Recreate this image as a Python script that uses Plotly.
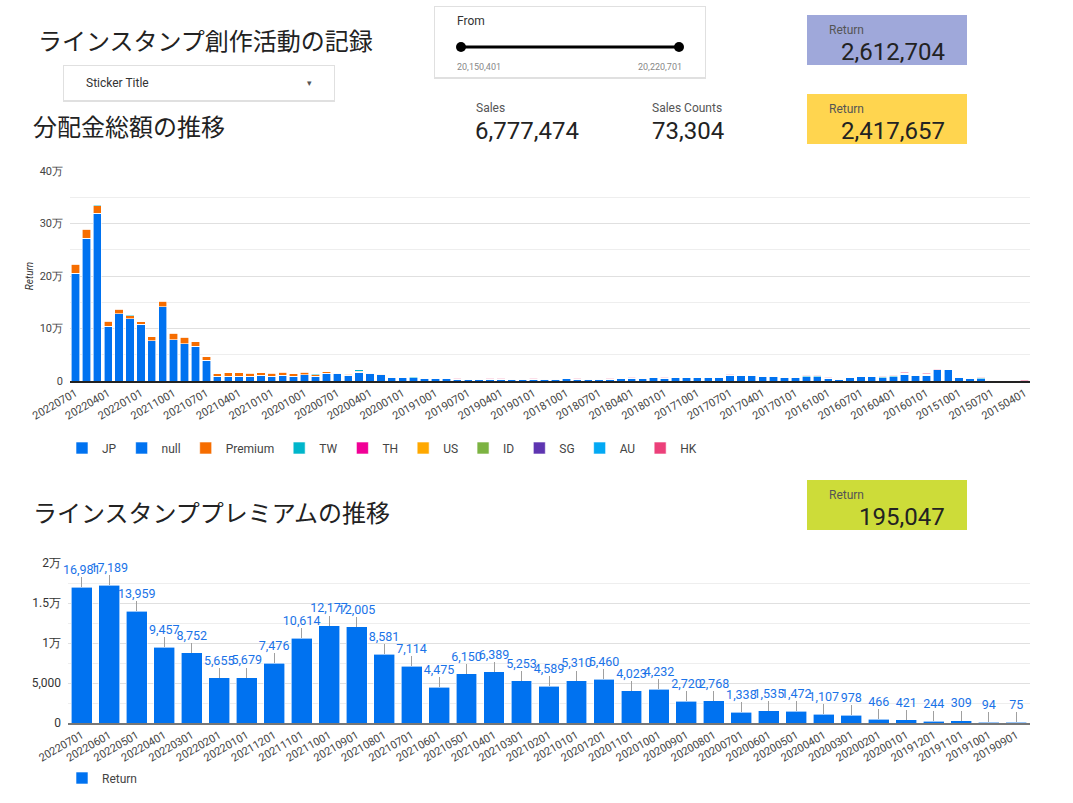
import plotly.graph_objects as go

W, H = 1073, 803

# months, newest first (top chart)
months = [
    "20220701", "20220601", "20220501", "20220401", "20220301", "20220201", "20220101",
    "20211201", "20211101", "20211001", "20210901", "20210801", "20210701",
    "20210601", "20210501", "20210401", "20210301", "20210201", "20210101",
    "20201201", "20201101", "20201001", "20200901", "20200801", "20200701",
    "20200601", "20200501", "20200401", "20200301", "20200201", "20200101",
    "20191201", "20191101", "20191001", "20190901", "20190801", "20190701",
    "20190601", "20190501", "20190401", "20190301", "20190201", "20190101",
    "20181201", "20181101", "20181001", "20180901", "20180801", "20180701",
    "20180601", "20180501", "20180401", "20180301", "20180201", "20180101",
    "20171201", "20171101", "20171001", "20170901", "20170801", "20170701",
    "20170601", "20170501", "20170401", "20170301", "20170201", "20170101",
    "20161201", "20161101", "20161001", "20160901", "20160801", "20160701",
    "20160601", "20160501", "20160401", "20160301", "20160201", "20160101",
    "20151201", "20151101", "20151001", "20150901", "20150801", "20150701",
    "20150601", "20150501", "20150401",
]

jp = [
    205000, 272000, 320000, 104000, 128000, 119000, 108000, 77000, 141000, 79000, 71000, 66000, 40000,
    9500, 9500, 9500, 9500, 11000, 9500, 11000, 9500, 12000, 9500, 14600, 14600,
    11000, 17000, 14600, 12000, 7000, 7000, 6300, 5000, 4000, 5000,
    3000, 3000, 3000, 3800, 3800, 3200, 3200, 3800, 3200, 3200, 4500, 3800,
    3200, 3200, 3800, 4500, 5700, 5700, 6300, 5000, 6300, 6300, 6300, 7000, 7000,
    10800, 11400, 11400, 9500, 9500, 7600, 7600, 8300, 8300, 5000, 3800, 6300,
    8300, 9500, 6300, 8300, 13300, 10800, 10800, 21000, 21000, 7000, 5000, 4500,
    1000, 500, 0, 0,
]

tw = [
    1000, 500, 2000, 1500, 1200, 1300, 500, 500, 2400, 1800, 2000, 1400, 500,
    300, 400, 1100, 1200, 1400, 1200, 1500, 1500, 1800, 1800, 600, 600,
    1500, 2500, 1300, 1000, 1500, 1200, 1800, 1300, 900, 1500,
    1500, 500, 500, 700, 700, 800, 800, 700, 800, 800, 700, 700,
    800, 800, 700, 700, 800, 1100, 1200, 1200, 1200, 800, 1200, 800, 800,
    1100, 1100, 1100, 1500, 1100, 1100, 1100, 1800, 1800, 1500, 1100, 800,
    1000, 1500, 1900, 1800, 1900, 1900, 2500, 600, 1200, 1800, 1500, 1800,
    1000, 800, 0, 0,
]

hk = [
    0, 0, 0, 0, 0, 0, 0, 0, 0, 0, 0, 0, 0,
    0, 0, 0, 0, 0, 0, 0, 0, 0, 0, 0, 0,
    0, 0, 0, 0, 0, 0, 0, 0, 0, 0,
    1200, 300, 300, 500, 500, 500, 500, 500, 500, 500, 500, 500,
    500, 500, 500, 500, 500, 800, 800, 800, 800, 500, 800, 500, 500,
    800, 800, 800, 1000, 800, 800, 800, 1300, 1300, 1100, 800, 500,
    700, 1000, 1300, 1300, 1300, 1300, 1700, 400, 800, 1200, 500, 500,
    0, 0, 0, 1000,
]

id_ = [
    0, 0, 0, 0, 0, 0, 0, 0, 0, 0, 0, 0, 0,
    0, 0, 0, 0, 0, 0, 0, 0, 0, 0, 0, 0,
    0, 0, 0, 0, 0, 0, 0, 0, 0, 0,
    0, 0, 0, 0, 0, 0, 0, 0, 0, 0, 0, 0,
    0, 0, 0, 0, 0, 0, 0, 0, 0, 0, 0, 0, 0,
    0, 0, 0, 0, 0, 0, 0, 0, 0, 0, 0, 0,
    0, 0, 0, 0, 0, 0, 0, 0, 0, 0, 300, 0,
    1800, 1200, 500, 0,
]

# premium return, 20220701 -> 20190901 (bottom chart)
premium_return = [
    16981, 17189, 13959, 9457, 8752, 5655, 5679, 7476, 10614, 12177, 12005, 8581,
    7114, 4475, 6150, 6389, 5253, 4589, 5310, 5460, 4023, 4232, 2720, 2768,
    1338, 1535, 1472, 1107, 978, 466, 421, 244, 309, 94, 75,
]

premium_months = months[:len(premium_return)]
premium_top = premium_return + [0] * (len(months) - len(premium_return))
empty = [0] * len(months)

top_series = [
    ("JP", jp, "#0072f0"),
    ("null", empty, "#0072f0"),
    ("Premium", premium_top, "#f66d00"),
    ("TW", tw, "#00b6cb"),
    ("TH", empty, "#f10096"),
    ("US", empty, "#ffa800"),
    ("ID", id_, "#7cb342"),
    ("SG", empty, "#5e35b1"),
    ("AU", empty, "#03a9f4"),
    ("HK", hk, "#ec407a"),
]

top_yticks = [0, 100000, 200000, 300000, 400000]
top_yticktext = ["0", "10万", "20万", "30万", "40万"]
bot_yticks = [0, 5000, 10000, 15000, 20000]
bot_yticktext = ["0", "5,000", "1万", "1.5万", "2万"]


def px(x):
    return x / W


def py(y):
    return 1 - y / H


fig = go.Figure()

for name, vals, color in top_series:
    fig.add_trace(go.Bar(
        x=months, y=vals, name=name, marker_color=color,
        marker_line=dict(color="white", width=0.6),
        xaxis="x", yaxis="y", legend="legend",
    ))

leader = 1250
fig.add_trace(go.Bar(
    x=premium_months, y=premium_return, name="Return", marker_color="#0072f0",
    marker_line=dict(color="white", width=0.6),
    error_y=dict(type="data", symmetric=False,
                 array=[leader] * len(premium_return),
                 arrayminus=[0] * len(premium_return),
                 width=0, thickness=1, color="#a0a0a0"),
    xaxis="x2", yaxis="y2", legend="legend2",
))
fig.add_trace(go.Scatter(
    x=premium_months, y=[v + leader for v in premium_return],
    text=[f"{v:,}" for v in premium_return], mode="text",
    textposition="top center",
    textfont=dict(family="Roboto", size=12.5, color="#1a73e8"),
    xaxis="x2", yaxis="y2", showlegend=False, cliponaxis=False,
))

# cards and scorecards
shapes = []


def card(x0, y0, x1, y1):
    shapes.append(dict(type="rect", xref="paper", yref="paper",
                       x0=px(x0 - 1), x1=px(x1 + 1), y0=py(y1 + 2), y1=py(y0 - 1),
                       fillcolor="rgba(0,0,0,0.12)", line_width=0, layer="below"))
    shapes.append(dict(type="rect", xref="paper", yref="paper",
                       x0=px(x0), x1=px(x1), y0=py(y1), y1=py(y0),
                       fillcolor="white", line_width=0, layer="below"))


def box(x0, y0, x1, y1, color):
    shapes.append(dict(type="rect", xref="paper", yref="paper",
                       x0=px(x0), x1=px(x1), y0=py(y1), y1=py(y0),
                       fillcolor=color, line_width=0, layer="below"))


card(64, 66, 334, 100)
card(435, 7, 705, 77)
box(807, 15, 967, 65, "#9fa8da")
box(807, 94, 967, 144, "#ffd54f")
box(807, 480, 967, 530, "#cddc39")

# slider
shapes.append(dict(type="line", xref="paper", yref="paper",
                   x0=px(461), x1=px(679), y0=py(47), y1=py(47),
                   line=dict(color="black", width=3)))
for cx in (461, 679):
    shapes.append(dict(type="circle", xref="paper", yref="paper",
                       x0=px(cx - 5), x1=px(cx + 5), y0=py(52), y1=py(42),
                       fillcolor="black", line_width=0))

annotations = []


def label(x, y, text, size, color="#222", family="Roboto", anchor="left"):
    annotations.append(dict(x=px(x), y=py(y), xref="paper", yref="paper",
                            text=text, showarrow=False, xanchor=anchor,
                            yanchor="middle",
                            font=dict(family=family, size=size, color=color)))


jpf = "Noto Sans CJK JP"
label(36, 40, "ラインスタンプ創作活動の記録", 24, "#222", jpf)
label(31, 126, "分配金総額の推移", 24, "#222", jpf)
label(31, 511, "ラインスタンププレミアムの推移", 24, "#222", jpf)

label(84, 83, "Sticker Title", 12, "#333")
label(309, 83, "▾", 9, "#555", anchor="center")

label(455, 21, "From", 12, "#333")
label(455, 67, "20,150,401", 9, "#888")
label(684, 67, "20,220,701", 9, "#888", anchor="right")

label(827, 30, "Return", 12, "#555")
label(947, 52, "2,612,704", 24, "#222", anchor="right")
label(827, 109, "Return", 12, "#555")
label(947, 131, "2,417,657", 24, "#222", anchor="right")
label(827, 495, "Return", 12, "#555")
label(947, 517, "195,047", 24, "#222", anchor="right")

label(474, 108, "Sales", 12, "#555")
label(473, 131, "6,777,474", 24, "#222")
label(650, 108, "Sales Counts", 12, "#555")
label(650, 131, "73,304", 24, "#222")

tickfont = dict(family="Roboto", size=11, color="#444")

fig.update_layout(
    width=W, height=H,
    margin=dict(l=0, r=0, t=0, b=0, autoexpand=False),
    paper_bgcolor="white", plot_bgcolor="white",
    barmode="stack", bargap=0.24,
    font=dict(family="Roboto", color="#444"),
    shapes=shapes, annotations=annotations,
    xaxis=dict(domain=[px(70), px(1030)], anchor="y", type="category",
               categoryorder="array", categoryarray=months,
               range=[-0.5, len(months) - 0.5],
               tickvals=months[::3], tickangle=-30, tickfont=tickfont,
               showgrid=False, ticks="", automargin=False,
               showline=True, linecolor="#222", linewidth=1.5),
    yaxis=dict(domain=[py(381), py(171)], anchor="x", range=[0, 400000],
               tickvals=top_yticks, ticktext=top_yticktext, tickfont=tickfont,
               ticklabelstandoff=6,
               gridcolor="#e0e0e0", zeroline=False, automargin=False,
               minor=dict(dtick=50000, showgrid=True, gridcolor="#eeeeee"),
               title=dict(text="Return", standoff=4,
                          font=dict(family="Roboto", size=10, color="#333",
                                    style="italic"))),
    xaxis2=dict(domain=[px(68), px(1030)], anchor="y2", type="category",
                categoryorder="array", categoryarray=premium_months,
                range=[-0.5, len(premium_months) - 0.5],
                tickangle=-30, tickfont=tickfont, showgrid=False, ticks="",
                automargin=False, showline=True, linecolor="#777", linewidth=1.5),
    yaxis2=dict(domain=[py(723), py(563)], anchor="x2", range=[0, 20000],
                tickvals=bot_yticks, ticktext=bot_yticktext,
                tickfont=dict(family="Roboto", size=12, color="#333"),
                ticklabelstandoff=6,
                gridcolor="#e0e0e0", zeroline=False, automargin=False,
                minor=dict(dtick=2500, showgrid=True, gridcolor="#eeeeee")),
    legend=dict(orientation="h", x=px(62), y=py(448), xanchor="left",
                yanchor="middle", traceorder="normal",
                font=dict(family="Roboto", size=12, color="#444"),
                bgcolor="rgba(0,0,0,0)"),
    legend2=dict(orientation="h", x=px(62), y=py(778), xanchor="left",
                 yanchor="middle", traceorder="normal",
                 font=dict(family="Roboto", size=12, color="#444"),
                 bgcolor="rgba(0,0,0,0)"),
)

fig.write_html("out.html", config={"displayModeBar": False},
               post_script="document.body.style.margin='0';")
